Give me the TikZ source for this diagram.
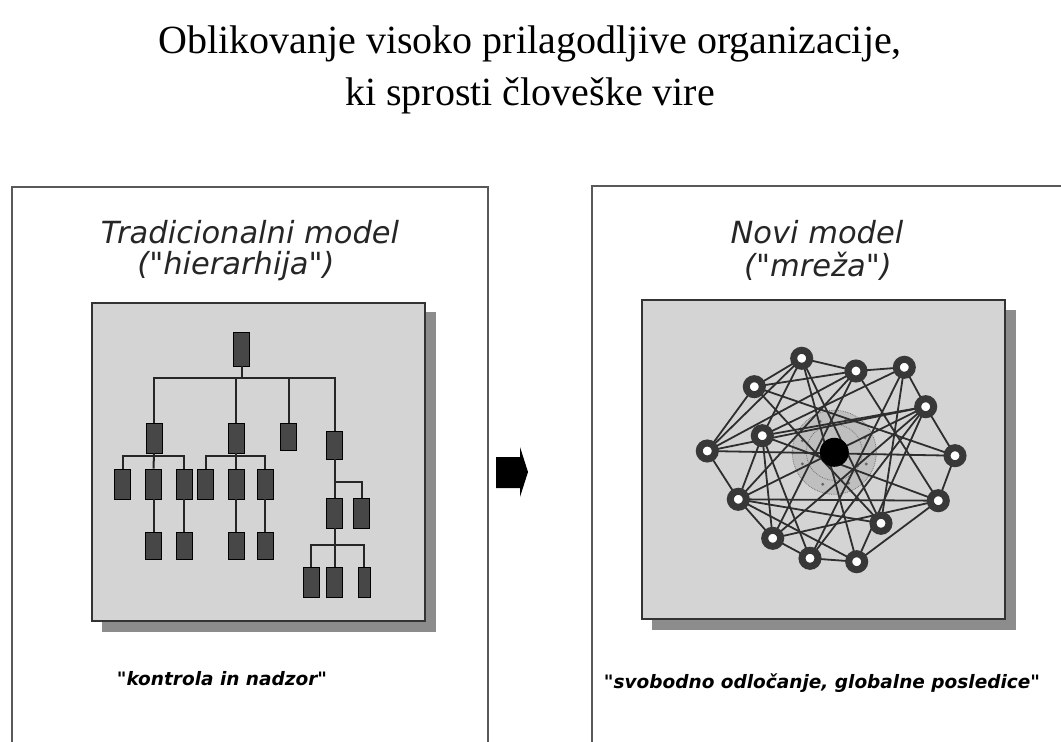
\documentclass[tikz,border=0pt]{standalone}
\usepackage{fontspec}
\usetikzlibrary{calc}
\setmainfont{Liberation Serif}
\newfontfamily\vsans{DejaVu Sans}
\begin{document}
\begin{tikzpicture}[x=1pt,y=-1pt,
  hbox/.style={draw=black, line width=0.8pt, fill=black!72, minimum width=16pt, minimum height=30pt, inner sep=0pt},
  hline/.style={line width=2pt, draw=black!85},
  ring/.style={circle, draw=black!78, line width=7pt, fill=white, minimum size=16pt, inner sep=0pt},
  nedge/.style={line width=1.8pt, draw=black!82},
  outerbox/.style={draw=black!65, line width=1.6pt},
  graybox/.style={draw=black!80, line width=1.2pt, fill=black!17},
  shadowbox/.style={fill=black!45, draw=none},
  ptitle/.style={font=\vsans\itshape\fontsize{30.5}{36}\selectfont, text=black!85, inner sep=0pt},
  pnote/.style={font=\vsans\bfseries\itshape\fontsize{18.5}{22}\selectfont, inner sep=0pt}
]
\useasboundingbox (0,0) rectangle (1061,742);
\fill[white] (0,0) rectangle (1061,742);

% main title
\node[align=center, font=\fontsize{40}{52}\selectfont, inner sep=0pt] (title) at (530,70)
  {Oblikovanje visoko prilagodljive organizacije,\\ ki sprosti človeške vire};

% outer panels
\draw[outerbox] (12,742) -- (12,187) -- (488,187) -- (488,742);
\draw[outerbox] (592,742) -- (592,186) -- (1061,186);

% panel titles
\node[ptitle] (t1) at (250,232) {Tradicionalni model};
\node[ptitle] (t2) at (236,266) {("hierarhija")};
\node[ptitle] (t3) at (817,232) {Novi model};
\node[ptitle] (t4) at (818,266) {("mreža")};

% gray boxes with shadow
\fill[shadowbox] (425,312) rectangle (436,632);
\fill[shadowbox] (102,621) rectangle (436,632);
\draw[graybox] (92,303) rectangle (425,621);
\fill[shadowbox] (1005,310) rectangle (1016,630);
\fill[shadowbox] (652,619) rectangle (1016,630);
\draw[graybox] (642,300) rectangle (1005,619);

% ---------- hierarchy ----------
\node[hbox, minimum height=34pt] (r) at (241.5,349) {};
\node[hbox] (a) at (154,438) {};
\node[hbox] (b) at (236,438) {};
\node[hbox, minimum height=27pt] (c) at (288.5,436.5) {};
\node[hbox, minimum height=28pt] (d) at (334.5,445) {};
\coordinate (bar) at (241.5,378);
\draw[hline] (r.south) -- (bar);
\draw[hline] (a.north) |- (bar) -| (d.north);
\draw[hline] (b.north) -- (b.north |- bar);
\draw[hline] (c.north) -- (c.north |- bar);

\node[hbox] (a1) at (122.5,484) {};
\node[hbox] (a2) at (153.5,484) {};
\node[hbox] (a3) at (184,484) {};
\coordinate (ab) at (154,456);
\draw[hline] (a1.north) |- (ab) -| (a3.north);
\draw[hline] (a.south) -- (a2.north);
\node[hbox, minimum height=27pt] (a2c) at (153.5,546) {};
\node[hbox, minimum height=27pt] (a3c) at (184,546) {};
\draw[hline] (a2.south) -- (a2c.north);
\draw[hline] (a3.south) -- (a3c.north);

\node[hbox] (b1) at (205.5,484) {};
\node[hbox] (b2) at (236,484) {};
\node[hbox] (b3) at (265,484) {};
\coordinate (bb) at (236,456);
\draw[hline] (b1.north) |- (bb) -| (b3.north);
\draw[hline] (b.south) -- (b2.north);
\node[hbox, minimum height=27pt] (b2c) at (236,546) {};
\node[hbox, minimum height=27pt] (b3c) at (265,546) {};
\draw[hline] (b2.south) -- (b2c.north);
\draw[hline] (b3.south) -- (b3c.north);

\node[hbox] (d1) at (334.5,513) {};
\node[hbox] (d2) at (361.5,513) {};
\coordinate (db) at (334.5,482);
\draw[hline] (d.south) -- (d1.north);
\draw[hline] (db) -| (d2.north);
\node[hbox] (d1a) at (311,582) {};
\node[hbox] (d1b) at (334.5,582) {};
\node[hbox, minimum width=12pt] (d1c) at (364,582) {};
\coordinate (dd) at (334.5,545);
\draw[hline] (d1.south) -- (d1b.north);
\draw[hline] (d1a.north) |- (dd) -| (d1c.north);

% ---------- arrow ----------
\fill[black] (496,457) -- (520,457) -- (520,447) -- (528,472) -- (520,497) -- (520,488) -- (496,488) -- cycle;

% ---------- network ----------
\coordinate (ctr) at (834.3,452.3);
\fill[black!25] (ctr) circle (42);
\draw[black!55, line width=0.8pt, densely dotted] (ctr) circle (42);
\draw[black!55, line width=0.8pt, densely dotted] (ctr) circle (28);
\foreach \a in {20,65,110,160,200,245,290,335}
  \fill[black!60] ($(ctr)+(\a:34)$) circle (1.6);

\foreach \i/\x/\y in {1/801.7/358.3, 2/856/371, 3/904.3/367.3, 4/754.3/386.7,
  5/925.7/406.7, 6/762.3/435.7, 7/707.3/451, 8/955/455.7, 9/738.3/499.3,
  10/938.3/500.7, 11/881/523.3, 12/772.7/538.3, 13/810/558.3, 14/856.7/561.7}
  \coordinate (p\i) at (\x,\y);

\foreach \u/\v in {1/2,2/3,3/5,5/8,8/10,10/14,14/13,13/12,12/9,9/7,7/4,4/1,
  7/8,9/10,7/1,7/2,7/5,4/2,4/8,4/11,6/1,6/5,6/9,6/12,6/13,6/10,
  1/14,1/11,2/12,2/10,2/9,3/6,3/13,3/11,5/9,5/12,5/14,9/11,9/14,12/10,13/5}
  \draw[nedge] (p\u) -- (p\v);

\foreach \i in {1,...,14}
  \node[ring] (n\i) at (p\i) {};
\node[circle, fill=black, minimum size=29pt, inner sep=0pt] (hub) at (ctr) {};

% ---------- notes ----------
\node[pnote] (k) at (222,679) {"kontrola in nadzor"};
\node[pnote] (s) at (822,683) {"svobodno odločanje, globalne posledice"};
\end{tikzpicture}
\end{document}
